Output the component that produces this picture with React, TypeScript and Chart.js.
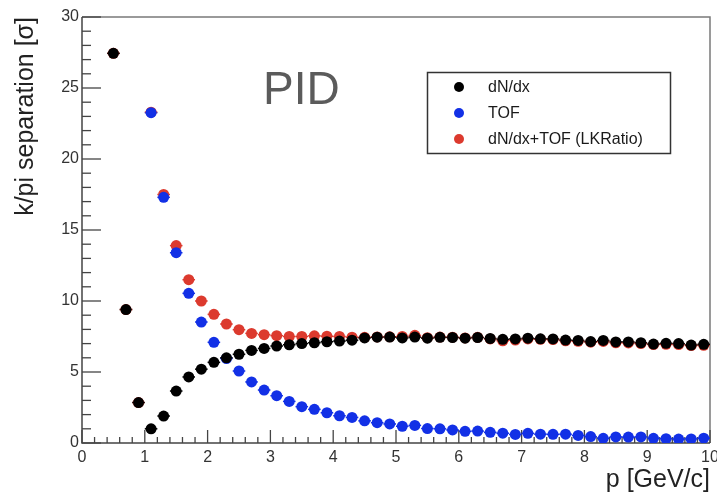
import { useEffect, useRef } from "react";
import { Chart, registerables } from "chart.js";

Chart.register(...registerables);

// momentum bin centres [GeV/c]
const P = [
  0.5, 0.7, 0.9, 1.1, 1.3, 1.5, 1.7, 1.9, 2.1, 2.3, 2.5, 2.7, 2.9, 3.1, 3.3, 3.5,
  3.7, 3.9, 4.1, 4.3, 4.5, 4.7, 4.9, 5.1, 5.3, 5.5, 5.7, 5.9, 6.1, 6.3, 6.5, 6.7,
  6.9, 7.1, 7.3, 7.5, 7.7, 7.9, 8.1, 8.3, 8.5, 8.7, 8.9, 9.1, 9.3, 9.5, 9.7, 9.9,
];

const DNDX = [
  27.44, 9.4, 2.85, 1.0, 1.9, 3.66, 4.65, 5.2, 5.68, 6.0, 6.25, 6.52, 6.66, 6.83, 6.92, 7.0,
  7.06, 7.13, 7.18, 7.24, 7.4, 7.45, 7.46, 7.4, 7.46, 7.38, 7.44, 7.43, 7.38, 7.43, 7.36, 7.3,
  7.33, 7.38, 7.34, 7.33, 7.25, 7.22, 7.14, 7.22, 7.12, 7.12, 7.06, 6.97, 7.02, 7.0, 6.9, 6.95,
];

const TOF = [
  null, null, null, 23.26, 17.3, 13.4, 10.54, 8.52, 7.09, 5.95, 5.07, 4.3, 3.73, 3.33, 2.93, 2.56,
  2.37, 2.13, 1.92, 1.8, 1.56, 1.43, 1.34, 1.18, 1.24, 1.02, 1.0, 0.92, 0.82, 0.84, 0.75, 0.69,
  0.6, 0.68, 0.62, 0.61, 0.62, 0.53, 0.45, 0.33, 0.43, 0.42, 0.43, 0.33, 0.3, 0.28, 0.29, 0.34,
];

const LKRATIO = [
  27.44, 9.4, 2.85, 23.3, 17.5, 13.9, 11.5, 10.0, 9.06, 8.38, 7.98, 7.72, 7.63, 7.56, 7.5, 7.5,
  7.55, 7.52, 7.5, 7.45, 7.44, 7.47, 7.48, 7.5, 7.58, 7.42, 7.46, 7.45, 7.4, 7.44, 7.33, 7.2,
  7.25, 7.33, 7.3, 7.28, 7.2, 7.16, 7.1, 7.15, 7.06, 7.05, 7.0, 6.93, 6.95, 6.93, 6.86, 6.88,
];

const BIN_HALF_WIDTH = 0.1;
const SERIES_LABELS = ["dN/dx", "TOF", "dN/dx+TOF (LKRatio)"];
const SERIES_COLORS = ["#000000", "#1230e6", "#dc3a2e"];
const X_TITLE = "p [GeV/c]";
const Y_TITLE = "k/pi separation [σ]";
const PAD_TEXT = "PID";

const FONT = '"Liberation Sans", Arial, Helvetica, sans-serif';

function toPoints(values: (number | null)[]) {
  const out: { x: number; y: number }[] = [];
  values.forEach((v, i) => {
    if (v !== null) out.push({ x: P[i], y: v });
  });
  return out;
}

const rootStyle = {
  id: "rootStyle",
  beforeDatasetsDraw(chart: any) {
    const { ctx, chartArea, scales } = chart;
    const { left, right, top, bottom } = chartArea;
    const xs = scales.x;
    const ys = scales.y;
    ctx.save();
    // frame
    ctx.lineWidth = 1.5;
    ctx.strokeStyle = "#7a7a7a";
    ctx.beginPath();
    ctx.moveTo(left, top);
    ctx.lineTo(right, top);
    ctx.lineTo(right, bottom);
    ctx.stroke();
    ctx.strokeStyle = "#444";
    ctx.beginPath();
    ctx.moveTo(left, top);
    ctx.lineTo(left, bottom);
    ctx.lineTo(right, bottom);
    ctx.stroke();
    // inward ticks
    ctx.lineWidth = 1.3;
    const nx = Math.round((xs.max - xs.min) / 0.2);
    for (let i = 0; i <= nx; i++) {
      const v = xs.min + i * 0.2;
      const px = xs.getPixelForValue(v);
      const len = i % 5 === 0 ? 13 : 6;
      ctx.beginPath();
      ctx.moveTo(px, bottom);
      ctx.lineTo(px, bottom - len);
      ctx.stroke();
    }
    const ny = Math.round(ys.max - ys.min);
    for (let i = 0; i <= ny; i++) {
      const py = ys.getPixelForValue(ys.min + i);
      const len = i % 5 === 0 ? 19 : 9;
      ctx.beginPath();
      ctx.moveTo(left, py);
      ctx.lineTo(left + len, py);
      ctx.stroke();
    }
    // horizontal error bars (bin width)
    ctx.lineWidth = 1.5;
    for (let d = chart.data.datasets.length - 1; d >= 0; d--) {
      const ds = chart.data.datasets[d];
      ctx.strokeStyle = ds.borderColor;
      ds.data.forEach((pt: any) => {
        const py = ys.getPixelForValue(pt.y);
        ctx.beginPath();
        ctx.moveTo(xs.getPixelForValue(pt.x - BIN_HALF_WIDTH), py);
        ctx.lineTo(xs.getPixelForValue(pt.x + BIN_HALF_WIDTH), py);
        ctx.stroke();
      });
    }
    ctx.restore();
  },
  afterDraw(chart: any) {
    const { ctx } = chart;
    ctx.save();
    // pad text
    ctx.font = `46px ${FONT}`;
    ctx.fillStyle = "#5b5b5b";
    ctx.textAlign = "left";
    ctx.textBaseline = "alphabetic";
    ctx.fillText(PAD_TEXT, 263, 104);
    // legend box
    const bx = 427.5, by = 72.5, bw = 243, bh = 81;
    ctx.fillStyle = "#ffffff";
    ctx.fillRect(bx, by, bw, bh);
    ctx.strokeStyle = "#333";
    ctx.lineWidth = 1.5;
    ctx.strokeRect(bx, by, bw, bh);
    ctx.font = `16px ${FONT}`;
    ctx.textBaseline = "middle";
    chart.data.datasets.forEach((ds: any, i: number) => {
      const ry = 87 + i * 26;
      ctx.fillStyle = ds.backgroundColor;
      ctx.beginPath();
      ctx.arc(459, ry, 5, 0, Math.PI * 2);
      ctx.fill();
      ctx.fillStyle = "#1a1a1a";
      ctx.fillText(ds.label, 488, ry + 1);
    });
    ctx.restore();
  },
};

export default function App() {
  const ref = useRef<HTMLCanvasElement | null>(null);
  useEffect(() => {
    document.body.style.margin = "0";
    if (!ref.current) return;
    const series = [DNDX, TOF, LKRATIO];
    const chart = new Chart(ref.current, {
      type: "scatter",
      data: {
        datasets: series.map((vals, i) => ({
          label: SERIES_LABELS[i],
          data: toPoints(vals),
          backgroundColor: SERIES_COLORS[i],
          borderColor: SERIES_COLORS[i],
          pointRadius: 5.5,
          pointHoverRadius: 5.5,
          borderWidth: 0,
        })),
      },
      options: {
        animation: false,
        responsive: false,
        events: [],
        layout: { padding: { left: 0, right: 7, top: 17, bottom: 0 } },
        plugins: { legend: { display: false }, tooltip: { enabled: false } },
        scales: {
          x: {
            type: "linear",
            min: 0,
            max: 10,
            border: { display: false },
            grid: { display: false, drawTicks: false },
            ticks: {
              stepSize: 1,
              autoSkip: false,
              maxRotation: 0,
              padding: 5,
              color: "#333",
              font: { family: FONT, size: 16 },
            },
            title: {
              display: true,
              text: X_TITLE,
              align: "end",
              color: "#222",
              font: { family: FONT, size: 25 },
              padding: { top: 0, bottom: 0 },
            },
            afterFit(scale: any) {
              scale.height = 52;
              scale.paddingLeft = 0;
              scale.paddingRight = 0;
            },
          },
          y: {
            type: "linear",
            min: 0,
            max: 30,
            border: { display: false },
            grid: { display: false, drawTicks: false },
            ticks: {
              stepSize: 5,
              padding: 3,
              color: "#333",
              font: { family: FONT, size: 16 },
            },
            title: {
              display: true,
              text: Y_TITLE,
              align: "end",
              color: "#222",
              font: { family: FONT, size: 25 },
              padding: { top: 11, bottom: 0 },
            },
            afterFit(scale: any) {
              scale.width = 82;
              scale.paddingTop = 0;
              scale.paddingBottom = 0;
            },
          },
        },
      },
      plugins: [rootStyle],
    } as any);
    return () => chart.destroy();
  }, []);
  return (
    <div style={{ width: 717, height: 495 }}>
      <canvas ref={ref} width={717} height={495} />
    </div>
  );
}
